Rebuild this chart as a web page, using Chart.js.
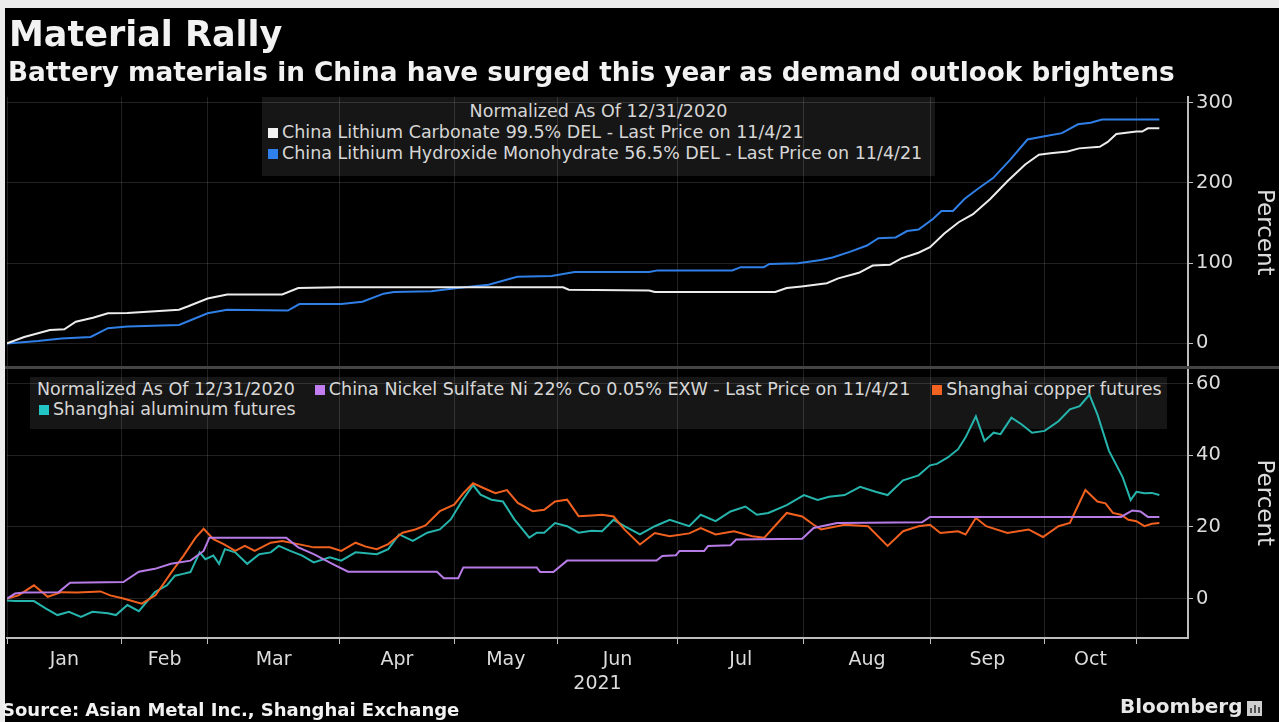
<!DOCTYPE html>
<html>
<head>
<meta charset="utf-8">
<script src="https://cdn.jsdelivr.net/npm/chart.js@4/dist/chart.umd.min.js"></script>
<style>
html,body{margin:0;padding:0;background:#ececec;width:1279px;height:722px;overflow:hidden;}
#panel{position:absolute;left:5px;top:8px;width:1274px;height:714px;background:#000;}
#c{position:absolute;left:0;top:0;}
.txt{position:absolute;white-space:nowrap;font-family:'DejaVu Sans',sans-serif;color:#f2f2f2;}
.lg{position:absolute;background:#161616;font-family:'DejaVu Sans',sans-serif;font-size:17.5px;color:#d6d6d6;white-space:nowrap;box-sizing:border-box;}
.sq{display:inline-block;width:10px;height:10px;margin-right:4px;vertical-align:0px;}
</style>
</head>
<body>
<div id="panel"></div>

<div class="lg" style="left:262px;top:97px;width:673px;height:79px;padding:4px 0 0 6px;line-height:21px;">
  <div style="text-align:center;padding-right:6px;">Normalized As Of 12/31/2020</div>
  <div><span class="sq" style="background:#f2f2f2"></span>China Lithium Carbonate 99.5% DEL - Last Price on 11/4/21</div>
  <div><span class="sq" style="background:#2f80ec"></span>China Lithium Hydroxide Monohydrate 56.5% DEL - Last Price on 11/4/21</div>
</div>

<div class="lg" style="left:30px;top:377px;width:1137px;height:52px;padding:2px 0 0 7px;line-height:20px;">
  <div>Normalized As Of 12/31/2020<span style="display:inline-block;width:20px"></span><span class="sq" style="background:#c27ef0"></span>China Nickel Sulfate Ni 22% Co 0.05% EXW - Last Price on 11/4/21<span style="display:inline-block;width:22px"></span><span class="sq" style="background:#f26322"></span>Shanghai copper futures</div>
  <div style="padding-left:2px"><span class="sq" style="background:#22c4c4"></span>Shanghai aluminum futures</div>
</div>

<canvas id="c" width="1279" height="722"></canvas>

<div class="txt" style="left:9px;top:14px;font-size:35px;font-weight:bold;line-height:40px;">Material Rally</div>
<div class="txt" style="left:8px;top:56px;font-size:26.3px;font-weight:bold;line-height:32px;">Battery materials in China have surged this year as demand outlook brightens</div>

<div class="txt" style="left:2px;top:699px;font-size:18px;font-weight:bold;line-height:22px;">Source: Asian Metal Inc., Shanghai Exchange</div>
<div class="txt" style="left:1120px;top:694px;font-size:20px;font-weight:bold;line-height:24px;color:#e8e8e8;">Bloomberg</div>
<div style="position:absolute;left:1247px;top:701px;width:15px;height:15px;background:#cfcfcf;">
  <div style="position:absolute;left:3px;bottom:3px;width:2px;height:5px;background:#555"></div>
  <div style="position:absolute;left:7px;bottom:3px;width:2px;height:8px;background:#555"></div>
  <div style="position:absolute;left:11px;bottom:3px;width:2px;height:6px;background:#555"></div>
</div>

<script>
// ---- Data (x = trading-day index since 12/31/2020, y = % change) ----
const monthLabels = ['Jan','Feb','Mar','Apr','May','Jun','Jul','Aug','Sep','Oct'];
const monthStarts = [0,20,35,58,78,96,117,139,161,181,197];
const topTicks = [0,50,100,150,200,250,300];
const bottomTicks = [0,10,20,30,40,50,60];

const lithiumCarbonate = [[0,0],[3,8],[7.5,16.7],[10,17.5],[12,27],[15,32],[17.6,37.5],[21,38],[30,42],[31.5,46],[35,56],[38.4,61],[48,61],[50.8,69],[58,70],[97,70],[98,67],[112,66],[113,64],[134,64],[136,69],[138.6,71],[143,75],[145,81],[148.6,88],[151,97],[154,98],[156,106],[159,113],[161,120],[163.5,137],[166,151],[168.5,161],[171.5,180],[174.5,202],[177.6,223],[180,235],[182,237],[185,239],[187,243],[190.6,245],[192,251],[193.5,261],[197,264],[198,264],[199,268],[201,268]];
const lithiumHydroxide = [[0,0],[5.4,3],[9.5,6],[14.6,8],[17.6,19],[21,21],[30,23],[35,37.5],[38.4,42],[49,41],[51,49],[58.3,49],[62,52],[65.7,62],[67.5,64],[74,65],[78.6,69],[84,73],[89,83],[95,84],[99,89],[112,89],[113.5,91],[126.5,91],[128,95],[132,95],[133,99],[138,100],[142,104],[144,107],[147,114],[150,122],[152,131],[155,132],[157,140],[159,142],[161.5,155],[163,165],[165,165],[167,180],[169.6,194],[172,206],[175,229],[178,254],[181,258],[184,262],[186.8,273],[189,275],[191,279],[201,279]];
const nickelSulfate = [[0,0],[1.4,1.4],[3,1.7],[9,1.8],[11,4.4],[20.3,4.6],[23,7.5],[25.8,8.3],[28.6,9.7],[32,10.6],[34.3,13.3],[35.3,17],[48.7,17],[50.8,14.3],[53.5,12.4],[57,9.5],[59.5,7.5],[75,7.5],[76.2,5.7],[78.7,5.7],[79.6,8.7],[92.4,8.7],[93,7.4],[95.3,7.4],[97.7,10.6],[113.3,10.6],[114.3,11.9],[116.7,12.1],[117.3,13.3],[121.6,13.3],[122.3,14.7],[126.2,14.9],[127.2,16.5],[138.7,16.7],[140.7,19.7],[144.8,21.1],[159.6,21.3],[161,22.8],[194.3,22.8],[196.3,24.6],[197.7,24.3],[199,22.8],[201,22.8]];
const copperFutures = [[0,0],[2,0.9],[4.7,3.7],[7.1,0.5],[9.5,1.8],[12.2,1.7],[16.3,2.0],[18,0.9],[20.3,0],[23.5,-1.4],[25.9,0.9],[28.7,7.4],[30.8,12],[32.9,17],[34.3,19.5],[36,16.6],[37.8,15.2],[39.8,13.3],[41.5,14.7],[43.2,13.3],[46,15.6],[48,16.1],[50.8,15.2],[53.5,14.3],[56.3,14.3],[58.3,13.3],[60.8,15.6],[62.6,14.5],[64.5,13.8],[66.5,15.2],[69,18.4],[71.2,19.3],[73,20.4],[75.5,24.4],[78,26.2],[79.6,29.4],[81.3,32.2],[83.2,30.8],[85.2,29.4],[87.2,30.3],[89.1,26.7],[91.7,24.4],[93.7,24.8],[95.6,27.1],[97.7,27.6],[99.7,23],[102,23.2],[103.8,23.4],[105.8,22.9],[107.7,19.3],[110.4,15.1],[113,18.3],[115.6,17.4],[119,18.2],[121,19.7],[123.6,17.9],[126.8,18.8],[130,17.4],[132.1,17],[136,23.9],[138.7,22.9],[140.7,20.6],[142,19.3],[146.1,20.6],[150.2,20.2],[153.6,14.7],[156.3,18.8],[159,20.2],[161,20.6],[162.8,18.3],[165.9,18.8],[167.2,17.9],[169,22.5],[170.8,20.2],[174.5,18.3],[178.2,19.3],[180.7,17.2],[183.4,20.2],[185.4,21.1],[188.1,30.3],[190.2,27.1],[191.6,26.6],[192.9,23.9],[194.3,23.4],[195.6,22],[197,21.6],[198.4,20.2],[199.7,20.9],[201,21.1]];
const aluminumFutures = [[0,-0.5],[1.4,-0.7],[4.7,-0.7],[6.8,-2.8],[8.8,-4.6],[10.8,-3.7],[12.9,-5.1],[14.9,-3.7],[17.6,-4.1],[19,-4.6],[21,-1.8],[23,-3.5],[25.8,1.8],[27.9,3.7],[29.3,6.4],[30.7,6.9],[32,7.4],[33.6,12.9],[34.6,11],[36,12],[37,9.7],[38,13.8],[39.8,12.9],[41.9,9.7],[44,12.4],[46,12.9],[47.4,14.7],[49.4,13.3],[51.5,12],[53.5,10.1],[56.3,11.5],[58.3,10.6],[60.8,12.9],[64.5,12.4],[66.5,13.8],[68.4,17.9],[70.8,16.1],[73.3,18.4],[75.5,19.3],[77.4,22.1],[79.3,27.1],[81.3,31.7],[82.6,29],[84.5,27.6],[86.5,27.1],[88.5,22.1],[91.1,17],[92.4,18.4],[93.7,18.4],[95.6,21.1],[97.7,20.2],[99.7,18.4],[102,18.9],[103.8,18.8],[105.8,22],[107.7,20.2],[110.4,17.9],[113,20.2],[115.6,22],[119,20.2],[121,23.4],[123.6,21.6],[126.2,24.3],[128.8,25.7],[130.8,23.4],[132.8,23.9],[136,26.1],[139,28.9],[141.4,27.5],[143.4,28.4],[146.1,28.9],[148.8,31.2],[151.5,29.8],[153.6,28.9],[156.3,33],[159,34.4],[161,37.2],[162.2,37.6],[164.1,39.4],[165.9,41.7],[167.2,45],[169,50.9],[170.5,44],[172.1,46.3],[173.3,45.9],[175.2,50.5],[177,48.6],[178.8,46.3],[181,46.8],[183.4,49.5],[185.4,52.8],[187.1,53.7],[188.8,56.9],[190.2,51.4],[192.2,41.3],[194.6,33.9],[196,27.5],[197,29.8],[198.4,29.4],[199.7,29.5],[201,28.9]];

// ---- Styling ----
const FONT = "'DejaVu Sans', sans-serif";
const GRID = 'rgba(255,255,255,0.13)';
const AXIS = '#bdbdbd';
const TEXT = '#dcdcdc';

const toXY = arr => arr.map(([x, y]) => ({x, y}));
const monthMids = monthLabels.map((m, i) => (monthStarts[i] + monthStarts[i + 1]) / 2);

const line = (label, data, color, axis) => ({
  label, data: toXY(data), yAxisID: axis, xAxisID: 'x',
  borderColor: color, backgroundColor: color, borderWidth: 2,
  pointRadius: 0, tension: 0, fill: false
});

const yAxis = (ticksArr, min, max, major) => ({
  type: 'linear', position: 'right', stack: 'panels', stackWeight: 1,
  min, max,
  afterBuildTicks: s => { s.ticks = ticksArr.map(v => ({value: v})); },
  afterFit: s => { s.width = 91; },
  border: {display: true, color: AXIS, width: 2},
  grid: {
    color: c => (c.tick && c.tick.value % major === 0) ? GRID : 'rgba(0,0,0,0)',
    tickColor: c => (c.tick && c.tick.value % major === 0) ? AXIS : '#777',
    tickLength: 5, drawTicks: true
  },
  ticks: {
    color: TEXT, padding: 3, font: {family: FONT, size: 19.5},
    callback: v => (v % major === 0 ? String(v) : '')
  },
  title: {display: true, text: 'Percent', color: TEXT, font: {family: FONT, size: 23}, padding: {top: 1, bottom: 0}}
});

const separator = {
  id: 'separator',
  afterDraw(chart) {
    const s = chart.scales.yTop, ctx = chart.ctx;
    ctx.save();
    ctx.strokeStyle = '#444';
    ctx.lineWidth = 3;
    ctx.beginPath();
    ctx.moveTo(5, s.bottom);
    ctx.lineTo(1279, s.bottom);
    ctx.stroke();
    ctx.restore();
  }
};

new Chart(document.getElementById('c'), {
  type: 'line',
  data: {
    datasets: [
      line('China Lithium Carbonate 99.5% DEL - Last Price on 11/4/21', lithiumCarbonate, '#ececec', 'yTop'),
      line('China Lithium Hydroxide Monohydrate 56.5% DEL - Last Price on 11/4/21', lithiumHydroxide, '#2f7fe6', 'yTop'),
      line('China Nickel Sulfate Ni 22% Co 0.05% EXW - Last Price on 11/4/21', nickelSulfate, '#b77be6', 'yBot'),
      line('Shanghai copper futures', copperFutures, '#f0601e', 'yBot'),
      line('Shanghai aluminum futures', aluminumFutures, '#26b5ad', 'yBot')
    ]
  },
  options: {
    responsive: false, animation: false,
    layout: {padding: {left: 7, top: 97, right: 0, bottom: 18}},
    plugins: {legend: {display: false}, tooltip: {enabled: false}},
    scales: {
      yTop: yAxis(topTicks, -30, 307, 100),
      yBot: yAxis(bottomTicks, -11, 64.5, 20),
      x: {
        type: 'linear', position: 'bottom', min: 0, max: 206,
        afterBuildTicks: s => { s.ticks = monthStarts.map(v => ({value: v})); },
        afterFit: s => { s.height = 6; },
        border: {display: true, color: AXIS, width: 2},
        grid: {color: GRID, tickColor: AXIS, tickLength: 6, drawTicks: true},
        ticks: {display: false}
      },
      xLabels: {
        type: 'linear', position: 'bottom', min: 0, max: 206,
        afterBuildTicks: s => { s.ticks = monthMids.map(v => ({value: v})); },
        afterFit: s => { s.height = 60; },
        border: {display: false},
        grid: {display: false, drawTicks: false},
        ticks: {
          color: TEXT, padding: 5, maxRotation: 0, autoSkip: false,
          font: {family: FONT, size: 19},
          callback: (v, i) => monthLabels[i]
        },
        title: {display: true, text: '2021', color: TEXT, font: {family: FONT, size: 19}, padding: {top: 0, bottom: 9}}
      }
    }
  },
  plugins: [separator]
});
</script>
</body>
</html>
